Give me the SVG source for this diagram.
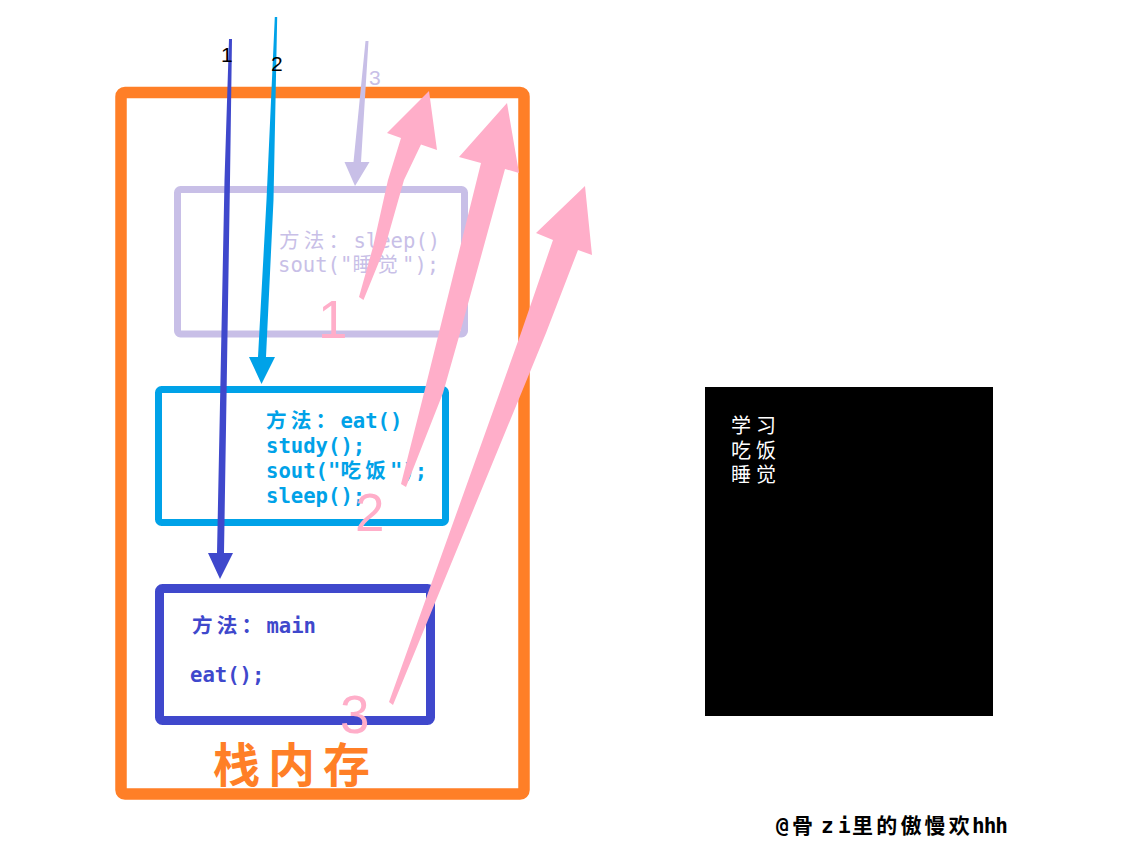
<svg xmlns="http://www.w3.org/2000/svg" width="1121" height="853" viewBox="0 0 1121 853">
  <style>
    .code { font-family: 'DejaVu Sans Mono', 'Noto Sans CJK SC', monospace; font-size: 20.6px; }
    .b { font-weight: bold; }
    .cjk { letter-spacing: 4.2px; }
    .lav { fill: #c8bfe7; }
    .tq { fill: #00a2e8; }
    .ind { fill: #3f48cc; }
    .pink { fill: #ffaec9; }
    .num { font-family: 'Liberation Sans', Arial, sans-serif; font-size: 53px; fill: #ffaec9; }
    .lbl { font-family: 'Liberation Sans', Arial, sans-serif; font-size: 21px; }
    .frame { fill: none; stroke-linejoin: round; }
  </style>
  <rect width="1121" height="853" fill="#ffffff"/>

  <g id="stack-frame">
    <rect class="frame" x="121" y="92.5" width="403" height="701.5" rx="4" stroke="#ff7f27" stroke-width="11.5"/>
    <text x="213" y="782" font-family="'Noto Sans CJK SC', sans-serif" font-size="47" font-weight="bold" letter-spacing="8" fill="#ff7f27">栈内存</text>
  </g>

  <g id="sleep-frame">
    <rect class="frame" x="177.5" y="189.5" width="287" height="144.5" rx="3" stroke="#c8bfe7" stroke-width="7"/>
    <text class="code lav" x="279" y="248"><tspan class="cjk">方法：</tspan>sleep()</text>
    <text class="code lav" x="278" y="272">sout("<tspan class="cjk">睡觉</tspan>");</text>
  </g>

  <g id="eat-frame">
    <rect class="frame" x="158.5" y="389.5" width="287" height="133" rx="3" stroke="#00a2e8" stroke-width="7"/>
    <text class="code b tq" x="266" y="428"><tspan class="cjk">方法：</tspan>eat()</text>
    <text class="code b tq" x="266" y="453">study();</text>
    <text class="code b tq" x="266" y="478">sout("<tspan class="cjk">吃饭</tspan>");</text>
    <text class="code b tq" x="266" y="503">sleep();</text>
  </g>

  <g id="main-frame">
    <rect class="frame" x="159.5" y="588.5" width="271" height="132" rx="3" stroke="#3f48cc" stroke-width="9"/>
    <text class="code b ind" x="192" y="633"><tspan class="cjk">方法：</tspan>main</text>
    <text class="code b ind" x="190" y="682">eat();</text>
  </g>

  <g id="console">
    <rect x="705" y="387" width="288" height="329" fill="#000000"/>
    <g font-family="'Noto Sans CJK SC', sans-serif" font-size="20" letter-spacing="5" fill="#ffffff">
      <text x="731" y="433">学习</text>
      <text x="731" y="457.5">吃饭</text>
      <text x="731" y="482">睡觉</text>
    </g>
  </g>

  <g id="connectors">
    <polygon fill="#3f48cc" points="229,39 224.5,180 217,553 208,553 220,579 233,553 224,553 230,180 232,39"/>
    <text class="lbl" x="221" y="62" fill="#000000">1</text>
    <polygon fill="#00a2e8" points="274.8,17 266.5,200 258,357 249,357 261.5,384 275,357 266,357 273.5,200 277.2,17"/>
    <text class="lbl" x="271" y="71" fill="#000000">2</text>
    <polygon fill="#c8bfe7" points="365.5,41 353.5,162 344.5,162 355,186 369.5,162 361,162 368.5,41"/>
    <text class="lbl" x="369" y="85" font-size="19" fill="#c8bfe7">3</text>

    <polygon class="pink" points="359,297 373,247 388,180 401,138 387,133 429,91 437,150 421,144.6 404,180 385,247 363.5,300"/>
    <polygon class="pink" points="401,484 424,393 481,163 459,157 507,103 519,173 505,169 460,333 443,393 406,487"/>
    <polygon class="pink" points="389,702 521,333 553,240 536,233 585,186 592,255 578,250 546,333 393,705"/>
    <text class="num" x="318" y="338">1</text>
    <text class="num" x="355" y="531">2</text>
    <text class="num" x="340" y="733">3</text>
  </g>

  <g id="watermark" font-family="'DejaVu Sans Mono', 'Noto Sans CJK SC', monospace" font-size="21" font-weight="bold" fill="#000000">
    <text y="833"><tspan x="776">@</tspan><tspan x="792">骨</tspan><tspan x="821">z</tspan><tspan x="838">i</tspan><tspan x="852" letter-spacing="3.2">里的傲慢欢</tspan><tspan x="972" letter-spacing="-1">hhh</tspan></text>
  </g>
</svg>
